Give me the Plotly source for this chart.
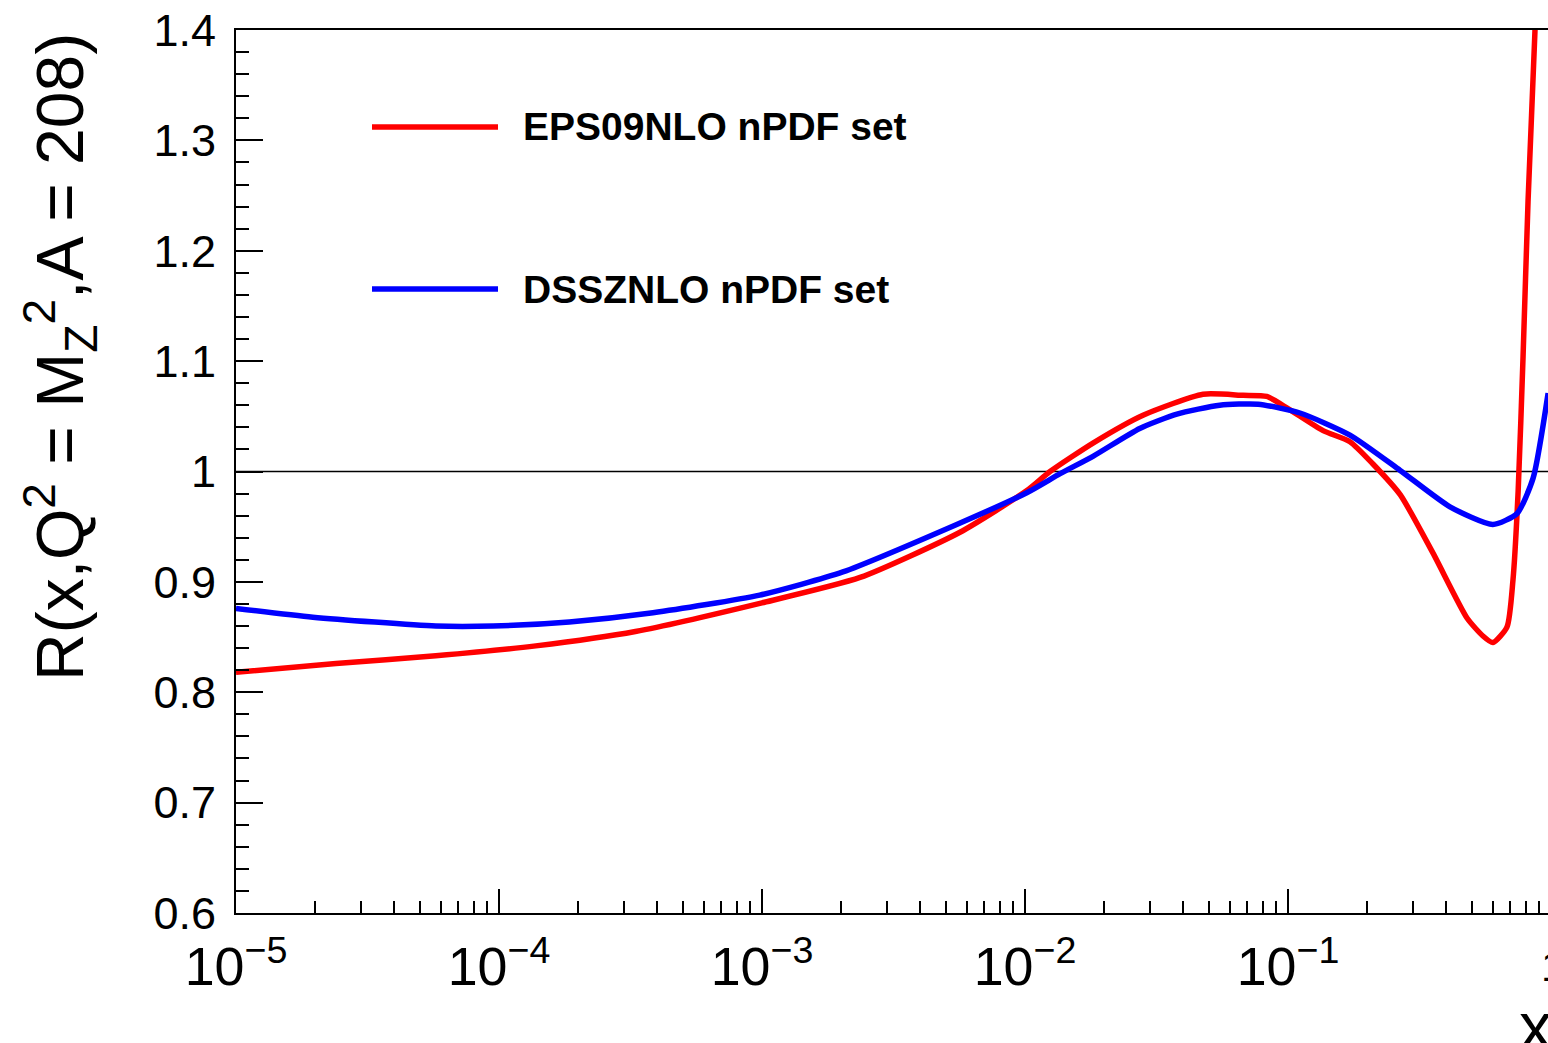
import plotly.graph_objects as go

# Nuclear modification ratio R(x, Q^2 = M_Z^2) for lead (A = 208)
eps09_x = [1e-5, 2.4e-5, 5.75e-5, 1.38e-4, 3.3e-4, 1e-3, 2.36e-3, 5.66e-3,
           1.02e-2, 1.245e-2, 1.82e-2, 2.81e-2, 4.75e-2, 6.75e-2, 8.3e-2,
           0.1, 0.136, 0.172, 0.21, 0.267, 0.356, 0.48, 0.551, 0.601, 0.68,
           0.717, 0.75, 0.783, 0.818, 0.869, 0.908]
eps09_r = [0.818, 0.826, 0.833, 0.842, 0.855, 0.881, 0.904, 0.945,
           0.983, 1.000, 1.026, 1.051, 1.070, 1.069, 1.068,
           1.057, 1.037, 1.027, 1.007, 0.979, 0.926, 0.867, 0.851, 0.845, 0.859,
           0.902, 0.982, 1.104, 1.245, 1.399, 1.55]

dssz_x = [1e-5, 1.96e-5, 5.75e-5, 9.5e-5, 1.85e-4, 3.85e-4, 9.8e-4, 2.03e-3,
          5.5e-3, 1.02e-2, 1.36e-2, 1.82e-2, 2.73e-2, 3.78e-2, 5.5e-2, 7.7e-2,
          0.111, 0.172, 0.267, 0.413, 0.601, 0.743, 0.855, 0.975]
dssz_r = [0.876, 0.868, 0.860, 0.860, 0.8637, 0.872, 0.888, 0.909,
          0.952, 0.981, 0.998, 1.014, 1.039, 1.052, 1.060, 1.061,
          1.053, 1.033, 1.001, 0.968, 0.952, 0.962, 0.994, 1.071]

series_names = ["EPS09NLO nPDF set", "DSSZNLO nPDF set"]
series_colors = ["#ff0000", "#0000ff"]

W, H = 1548, 1043
L, R, T, B = 236, 0, 30, 130
pw, ph = W - L - R, H - T - B

FONT = "Liberation Sans, Arial, Helvetica, sans-serif"

fig = go.Figure()
fig.add_trace(go.Scatter(x=eps09_x, y=eps09_r, mode="lines",
                         line=dict(color=series_colors[0], width=5.5, shape="spline", smoothing=0.6),
                         showlegend=False))
fig.add_trace(go.Scatter(x=dssz_x, y=dssz_r, mode="lines",
                         line=dict(color=series_colors[1], width=5.5, shape="spline", smoothing=0.6),
                         showlegend=False))

# unity reference line
fig.add_shape(type="line", xref="paper", yref="y", x0=0, x1=1, y0=1, y1=1,
              line=dict(color="black", width=1.5), layer="below")

# legend samples drawn by hand (long line keys)
leg_y_px = [127, 289]
for name, col, ypx in zip(series_names, series_colors, leg_y_px):
    yp = 1 - (ypx - T) / ph
    fig.add_shape(type="line", xref="paper", yref="paper",
                  x0=(372 - L) / pw, x1=(498 - L) / pw, y0=yp, y1=yp,
                  line=dict(color=col, width=5.5))
    fig.add_annotation(xref="paper", yref="paper", x=(521 - L) / pw, y=yp,
                       xanchor="left", yanchor="middle", showarrow=False,
                       text="<b>%s</b>" % name,
                       font=dict(family=FONT, size=39, color="black"))

# y-axis title, aligned toward the top of the axis
fig.add_annotation(xref="paper", yref="paper", x=(60 - L) / pw, y=1 - (357 - T) / ph,
                   xanchor="center", yanchor="middle", showarrow=False, textangle=-90,
                   text="R(x,Q<sup>2</sup> = M<sub>Z</sub><sup>2</sup>,A = 208)",
                   font=dict(family=FONT, size=66, color="black"))

# x-axis title at the right end
fig.add_annotation(xref="paper", yref="paper", x=1 + 6 / pw, y=1 - (1026 - T) / ph,
                   xanchor="right", yanchor="middle", showarrow=False,
                   text="x", font=dict(family=FONT, size=66, color="black"))

# the last decade label sits at the very edge
fig.add_annotation(xref="paper", yref="paper", x=1 + 5 / pw, y=1 - (966 - T) / ph,
                   xanchor="center", yanchor="middle", showarrow=False,
                   text="1", font=dict(family=FONT, size=43, color="black"))

fig.update_xaxes(type="log", range=[-5, -5 + pw / 263.0], dtick=1,
                 exponentformat="power", showexponent="all",
                 showline=True, linecolor="black", linewidth=2, mirror=True,
                 ticks="inside", ticklen=24, tickwidth=1.5, tickcolor="black",
                 minor=dict(ticks="inside", ticklen=12, tickwidth=1.5, tickcolor="black", dtick="D1"),
                 showgrid=False, zeroline=False,
                 tickfont=dict(family=FONT, size=43, color="black"),
                 ticklabelstandoff=8)
fig.update_yaxes(range=[0.6, 1.4], dtick=0.1, tickformat="~g",
                 showline=True, linecolor="black", linewidth=2,
                 ticks="inside", ticklen=27, tickwidth=1.5, tickcolor="black",
                 minor=dict(ticks="inside", ticklen=13, tickwidth=1.5, tickcolor="black", dtick=0.02),
                 showgrid=False, zeroline=False,
                 tickfont=dict(family=FONT, size=45, color="black"),
                 ticklabelstandoff=9)

fig.update_layout(width=W, height=H, margin=dict(l=L, r=R, t=T, b=B, pad=0),
                  paper_bgcolor="white", plot_bgcolor="white", showlegend=False)

fig.write_html("out.html")
